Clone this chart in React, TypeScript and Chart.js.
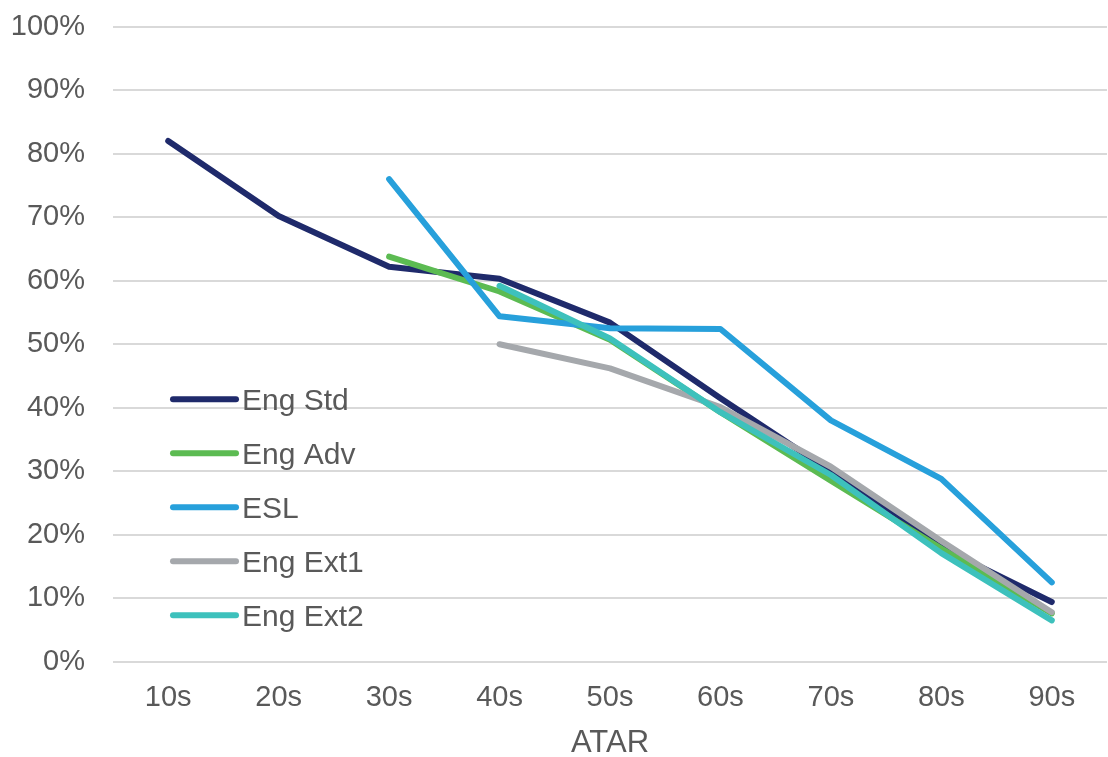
import React, { useEffect, useRef } from "react";
import { Chart, registerables } from "chart.js";

Chart.register(...registerables);

const categories = ["10s", "20s", "30s", "40s", "50s", "60s", "70s", "80s", "90s"];
const engStd = [82, 70.2, 62.2, 60.3, 53.4, 41.5, 30, 18, 9.4];
const engAdv = [null, null, 63.8, 58.3, 50.7, 39.3, 28.5, 17.8, 7.6];
const esl = [null, null, 76, 54.4, 52.5, 52.4, 38, 28.8, 12.5];
const engExt1 = [null, null, null, 50, 46.2, 40.1, 30.7, 19, 7.8];
const engExt2 = [null, null, null, 59.2, 50.9, 39.3, 29.4, 17.1, 6.5];
const yTicks = [0, 10, 20, 30, 40, 50, 60, 70, 80, 90, 100];

const seriesNames = ["Eng Std", "Eng Adv", "ESL", "Eng Ext1", "Eng Ext2"];
const seriesColors = ["#1F2A6B", "#5CBB52", "#27A0DB", "#A5A8AC", "#3DC1BC"];

const FONT = "'Liberation Sans', Arial, sans-serif";
const TEXT = "#595959";

const legendPlugin = {
  id: "insideLegend",
  afterDraw(chart: any) {
    const { ctx, chartArea } = chart;
    const x0 = chartArea.left + 60;
    const y0 = chartArea.top + 372.5;
    const gap = 54;
    ctx.save();
    chart.data.datasets.forEach((ds: any, i: number) => {
      const y = y0 + i * gap;
      ctx.strokeStyle = ds.borderColor;
      ctx.lineWidth = 6;
      ctx.lineCap = "round";
      ctx.beginPath();
      ctx.moveTo(x0, y);
      ctx.lineTo(x0 + 63, y);
      ctx.stroke();
      ctx.fillStyle = TEXT;
      ctx.font = `30px ${FONT}`;
      ctx.textBaseline = "alphabetic";
      ctx.textAlign = "left";
      ctx.fillText(ds.label, x0 + 69, y + 10.7);
    });
    ctx.restore();
  },
};

export default function App() {
  const ref = useRef<HTMLCanvasElement>(null);
  useEffect(() => {
    if (!ref.current) return;
    const data = [engStd, engAdv, esl, engExt1, engExt2];
    const chart = new Chart(ref.current, {
      type: "line",
      data: {
        labels: categories,
        datasets: data.map((d, i) => ({
          label: seriesNames[i],
          data: d,
          borderColor: seriesColors[i],
          backgroundColor: seriesColors[i],
          borderWidth: 6,
          pointRadius: 0,
          pointHoverRadius: 0,
          tension: 0,
          borderCapStyle: "round" as const,
          borderJoinStyle: "round" as const,
          order: 5 - i,
          spanGaps: false,
        })),
      },
      options: {
        animation: false,
        responsive: false,
        maintainAspectRatio: false,
        layout: { padding: { top: 26.7, right: 1, bottom: 0, left: 0 } },
        plugins: {
          legend: { display: false },
          tooltip: { enabled: false },
        },
        scales: {
          x: {
            type: "category",
            offset: true,
            grid: { display: false, drawTicks: false },
            border: { display: false },
            ticks: {
              color: TEXT,
              font: { family: FONT, size: 29, lineHeight: 1.2 },
              padding: 19,
              maxRotation: 0,
            },
            title: {
              display: true,
              text: "ATAR",
              color: TEXT,
              font: { family: FONT, size: 31, lineHeight: 0.9 },
              padding: { top: 0, bottom: 0 },
            },
            afterFit(scale: any) {
              scale.height = 95.3;
              scale.paddingLeft = 0;
              scale.paddingRight = 0;
            },
          },
          y: {
            min: 0,
            max: 100,
            afterBuildTicks(scale: any) {
              scale.ticks = yTicks.map((v) => ({ value: v }));
            },
            grid: { color: "#D9D9D9", lineWidth: 2, drawTicks: false },
            border: { display: false },
            ticks: {
              color: TEXT,
              font: { family: FONT, size: 29, lineHeight: 1.2 },
              padding: 28,
              callback: (v: any) => `${v}%`,
            },
            afterFit(scale: any) {
              scale.width = 113;
              scale.paddingTop = 0;
              scale.paddingBottom = 0;
            },
          },
        },
      },
      plugins: [legendPlugin],
    });
    return () => chart.destroy();
  }, []);
  return (
    <div style={{ position: "fixed", left: 0, top: 0, width: 1108, height: 757, background: "#fff" }}>
      <canvas ref={ref} width={1108} height={757} style={{ display: "block" }} />
    </div>
  );
}
